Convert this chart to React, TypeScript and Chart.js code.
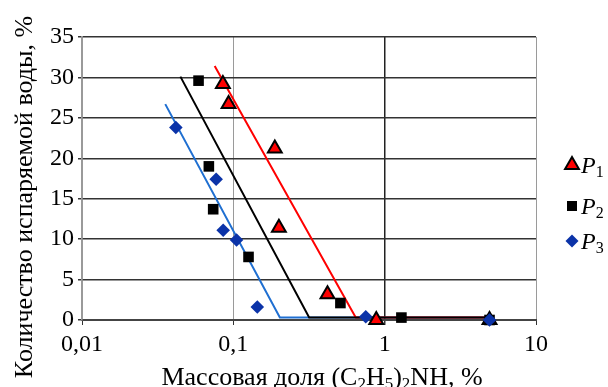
import React, { useEffect, useRef } from "react";
import { Chart, registerables } from "chart.js";

Chart.register(...registerables);

// ---- data ----
const p1X = [0.0853, 0.093, 0.188, 0.2, 0.419, 0.88, 4.93];
const p1Y = [29.2, 26.7, 21.2, 11.4, 3.2, 0, 0];
const p2X = [0.0589, 0.0689, 0.0736, 0.126, 0.51, 1.29, 4.93];
const p2Y = [29.6, 19.0, 13.7, 7.8, 2.1, 0.3, 0];
const p3X = [0.0417, 0.077, 0.0857, 0.105, 0.144, 0.75, 4.93];
const p3Y = [23.8, 17.4, 11.1, 9.9, 1.6, 0.4, 0];

const redLineX = [0.0753, 0.644, 4.93];
const redLineY = [31.4, 0.3, 0.3];
const blackLineX = [0.0447, 0.317, 4.93];
const blackLineY = [30.1, 0.3, 0.3];
const blueLineX = [0.0355, 0.203, 4.93];
const blueLineY = [26.7, 0.3, 0.3];

const xTickValues = [0.01, 0.1, 1, 10];
const xTickLabels = ["0,01", "0,1", "1", "10"];
const yTickValues = [0, 5, 10, 15, 20, 25, 30, 35];

const seriesNames = ["P", "P", "P"];
const seriesSubs = ["1", "2", "3"];
const yTitle = "Количество испаряемой воды, %";
const xTitleParts: [string, boolean][] = [
  ["Массовая доля (C", false],
  ["2", true],
  ["H", false],
  ["5", true],
  [")", false],
  ["2", true],
  ["NH, %", false],
];

const FONT = "Liberation Serif";
const RED = "#ff0000";
const BLUE_PT = "#0b33a8";
const BLUE_LINE = "#1f6fd1";

const zip = (xs: number[], ys: number[]) => xs.map((x, i) => ({ x, y: ys[i] }));

function drawMarker(ctx: CanvasRenderingContext2D, kind: number, x: number, y: number) {
  ctx.save();
  ctx.beginPath();
  if (kind === 0) {
    const r = 8;
    ctx.moveTo(x, y - r);
    ctx.lineTo(x + r * 0.866, y + r * 0.5);
    ctx.lineTo(x - r * 0.866, y + r * 0.5);
    ctx.closePath();
    ctx.fillStyle = RED;
    ctx.fill();
    ctx.lineWidth = 2;
    ctx.strokeStyle = "#000";
    ctx.stroke();
  } else if (kind === 1) {
    ctx.rect(x - 5, y - 5, 10, 10);
    ctx.fillStyle = "#000";
    ctx.fill();
  } else {
    const r = 6.5;
    ctx.moveTo(x, y - r);
    ctx.lineTo(x + r, y);
    ctx.lineTo(x, y + r);
    ctx.lineTo(x - r, y);
    ctx.closePath();
    ctx.fillStyle = BLUE_PT;
    ctx.fill();
  }
  ctx.restore();
}

const decorPlugin = {
  id: "decor",
  afterDraw(chart: any) {
    const ctx: CanvasRenderingContext2D = chart.ctx;
    ctx.save();
    ctx.fillStyle = "#000";
    // legend
    const legendY = [165, 206, 241];
    legendY.forEach((ly, i) => {
      drawMarker(ctx, i, 572, ly);
      ctx.font = `italic 24px "${FONT}", serif`;
      ctx.textBaseline = "alphabetic";
      ctx.textAlign = "left";
      ctx.fillText(seriesNames[i], 581, ly + 8);
      const w = ctx.measureText(seriesNames[i]).width;
      ctx.font = `16px "${FONT}", serif`;
      ctx.fillText(seriesSubs[i], 581 + w, ly + 12);
    });
    // y title
    ctx.save();
    ctx.translate(32, 197);
    ctx.rotate(-Math.PI / 2);
    ctx.font = `26px "${FONT}", serif`;
    ctx.textAlign = "center";
    ctx.textBaseline = "alphabetic";
    ctx.fillText(yTitle, 0, 0);
    ctx.restore();
    // x title with subscripts
    const big = `26px "${FONT}", serif`;
    const small = `17px "${FONT}", serif`;
    let total = 0;
    xTitleParts.forEach(([t, sub]) => {
      ctx.font = sub ? small : big;
      total += ctx.measureText(t).width;
    });
    let x = 322 - total / 2;
    const base = 385;
    ctx.textAlign = "left";
    xTitleParts.forEach(([t, sub]) => {
      ctx.font = sub ? small : big;
      ctx.fillText(t, x, sub ? base + 4 : base);
      x += ctx.measureText(t).width;
    });
    ctx.restore();
  },
};

export default function App() {
  const ref = useRef<HTMLCanvasElement>(null);
  useEffect(() => {
    document.body.style.margin = "0";
    const chart = new Chart(ref.current!, {
      type: "scatter",
      data: {
        datasets: [
          {
            label: "P3",
            data: zip(p3X, p3Y),
            pointStyle: "rectRot",
            pointRadius: 6.8,
            backgroundColor: BLUE_PT,
            borderColor: BLUE_PT,
            borderWidth: 0,
            order: 0,
            clip: false,
          } as any,
          {
            label: "P2",
            data: zip(p2X, p2Y),
            pointStyle: "rect",
            pointRadius: 7.5,
            backgroundColor: "#000",
            borderColor: "#000",
            borderWidth: 0,
            order: 1,
            clip: false,
          },
          {
            label: "P1",
            data: zip(p1X, p1Y),
            pointStyle: "triangle",
            pointRadius: 8,
            backgroundColor: RED,
            borderColor: "#000",
            borderWidth: 2,
            order: 2,
            clip: false,
          },
          {
            label: "black line",
            data: zip(blackLineX, blackLineY),
            showLine: true,
            pointRadius: 0,
            borderColor: "#000",
            borderWidth: 2,
            order: 3,
          },
          {
            label: "red line",
            data: zip(redLineX, redLineY),
            showLine: true,
            pointRadius: 0,
            borderColor: RED,
            borderWidth: 2,
            order: 4,
          },
          {
            label: "blue line",
            data: zip(blueLineX, blueLineY),
            showLine: true,
            pointRadius: 0,
            borderColor: BLUE_LINE,
            borderWidth: 2,
            order: 5,
          },
        ],
      },
      options: {
        animation: false,
        responsive: false,
        maintainAspectRatio: false,
        layout: { padding: { left: 0, top: 37, right: 72, bottom: 0 } },
        plugins: { legend: { display: false }, tooltip: { enabled: false } },
        scales: {
          x: {
            type: "logarithmic",
            min: 0.01,
            max: 10,
            afterBuildTicks: (s: any) => {
              s.ticks = xTickValues.map((v) => ({ value: v }));
            },
            afterFit: (s: any) => {
              s.height = 67;
            },
            ticks: {
              autoSkip: false,
              maxRotation: 0,
              padding: 5,
              color: "#000",
              font: { family: FONT, size: 24 },
              callback: (v: any) => {
                const i = xTickValues.findIndex((t) => Math.abs(t - Number(v)) < 1e-9);
                return i >= 0 ? xTickLabels[i] : "";
              },
            },
            grid: {
              color: (c: any) => (c.tick && c.tick.value === 1 ? "#222" : "#9a9a9a"),
              lineWidth: (c: any) => (c.tick && c.tick.value === 1 ? 1.5 : 1),
              tickColor: "#333",
              tickLength: 5,
            },
            border: { color: "#444", width: 2 },
          },
          y: {
            min: 0,
            max: 35,
            afterBuildTicks: (s: any) => {
              s.ticks = yTickValues.map((v) => ({ value: v }));
            },
            afterFit: (s: any) => {
              s.width = 82;
            },
            ticks: {
              padding: 4,
              color: "#000",
              font: { family: FONT, size: 24 },
            },
            grid: { color: "#333", lineWidth: 1.5, tickLength: 4, tickColor: "#333" },
            border: { color: "#9a9a9a", width: 1.5 },
          },
        },
      },
      plugins: [decorPlugin],
    } as any);
    let alive = true;
    if ((document as any).fonts) {
      Promise.all([
        (document as any).fonts.load(`22px "${FONT}"`),
        (document as any).fonts.load(`italic 22px "${FONT}"`),
      ]).then(() => {
        if (alive) chart.update();
      });
    }
    return () => {
      alive = false;
      chart.destroy();
    };
  }, []);
  return (
    <div style={{ position: "absolute", left: 0, top: 0, width: 608, height: 387 }}>
      <canvas ref={ref} width={608} height={387} style={{ width: 608, height: 387 }} />
    </div>
  );
}
